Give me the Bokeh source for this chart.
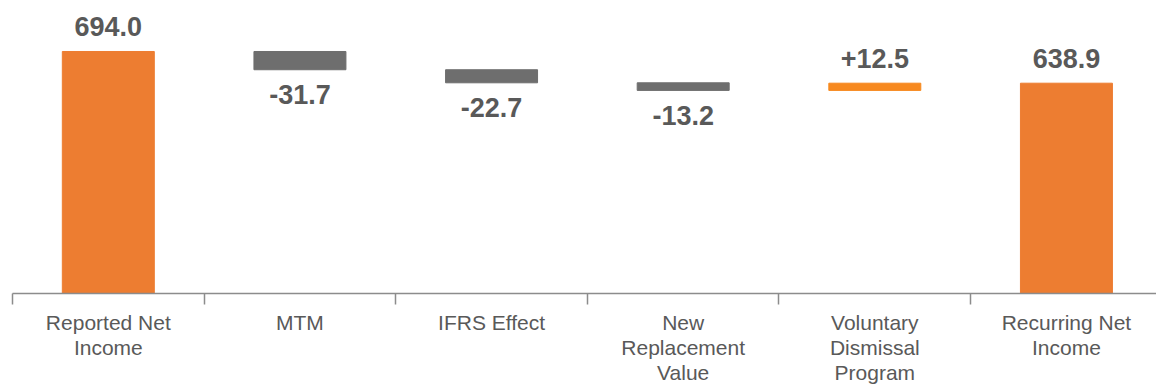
from bokeh.plotting import figure
from bokeh.models import Range1d, FixedTicker, ColumnDataSource
from bokeh.core.properties import value
from bokeh.embed import file_html
from bokeh.resources import INLINE

categories = ["Reported Net\nIncome", "MTM", "IFRS Effect", "New\nReplacement\nValue",
              "Voluntary\nDismissal\nProgram", "Recurring Net\nIncome"]
values = [694.0, -31.7, -22.7, -13.2, 12.5, 638.9]
kinds = ["total", "delta", "delta", "delta", "delta", "total"]
labels = ["694.0", "-31.7", "-22.7", "-13.2", "+12.5", "638.9"]

ORANGE = "#ED7D31"
ORANGE_UP = "#F7891F"
GRAY = "#6E6E6E"
TEXT = "#595959"

xs, bottoms, tops, colors = [], [], [], []
running = 0.0
for i, (v, k) in enumerate(zip(values, kinds)):
    xs.append(i)
    if k == "total":
        bottoms.append(0.0)
        tops.append(v)
        running = v
        colors.append(ORANGE)
    else:
        start = running
        running = running + v
        bottoms.append(min(start, running))
        tops.append(max(start, running))
        colors.append(ORANGE_UP if v > 0 else GRAY)

src = ColumnDataSource(dict(x=xs, bottom=bottoms, top=tops, color=colors))

p = figure(width=1156, height=387, output_backend="svg", toolbar_location=None,
           x_range=Range1d(-0.5, 5.47), y_range=Range1d(273.5, 782.6),
           min_border_left=12, min_border_right=0, min_border_top=0, min_border_bottom=80)
p.outline_line_color = None
p.grid.visible = False
p.yaxis.visible = False
p.background_fill_color = "white"
p.border_fill_color = "white"

p.vbar(x="x", bottom="bottom", top="top", width=0.48, color="color",
       line_color="color", source=src)

pos_x = [x for x, v in zip(xs, values) if v > 0]
pos_y = [t for t, v in zip(tops, values) if v > 0]
pos_t = [l for l, v in zip(labels, values) if v > 0]
neg_x = [x for x, v in zip(xs, values) if v < 0]
neg_y = [b for b, v in zip(bottoms, values) if v < 0]
neg_t = [l for l, v in zip(labels, values) if v < 0]

p.text(x=pos_x, y=pos_y, text=pos_t, text_align="center", text_baseline="alphabetic",
       y_offset=-25, text_font=value("Liberation Sans"), text_font_style="bold",
       text_font_size="27px", text_color=TEXT)
p.text(x=neg_x, y=neg_y, text=neg_t, text_align="center", text_baseline="alphabetic",
       y_offset=25, text_font=value("Liberation Sans"), text_font_style="bold",
       text_font_size="27px", text_color=TEXT)

ax = p.xaxis[0]
ax.ticker = FixedTicker(ticks=xs, minor_ticks=[x - 0.5 for x in xs] + [xs[-1] + 0.5])
ax.major_label_overrides = {i: c for i, c in enumerate(categories)}
ax.major_tick_line_color = None
ax.major_tick_out = 0
ax.major_tick_in = 0
ax.minor_tick_line_color = "#8C8C8C"
ax.minor_tick_line_width = 1.5
ax.minor_tick_out = 11
ax.minor_tick_in = 0
ax.axis_line_color = "#8C8C8C"
ax.axis_line_width = 1.5
ax.major_label_text_font = "Liberation Sans"
ax.major_label_text_font_size = "21px"
ax.major_label_text_color = TEXT
ax.major_label_standoff = 6
ax.major_label_text_line_height = 1.1

open("out.html", "w").write(file_html(p, INLINE))
